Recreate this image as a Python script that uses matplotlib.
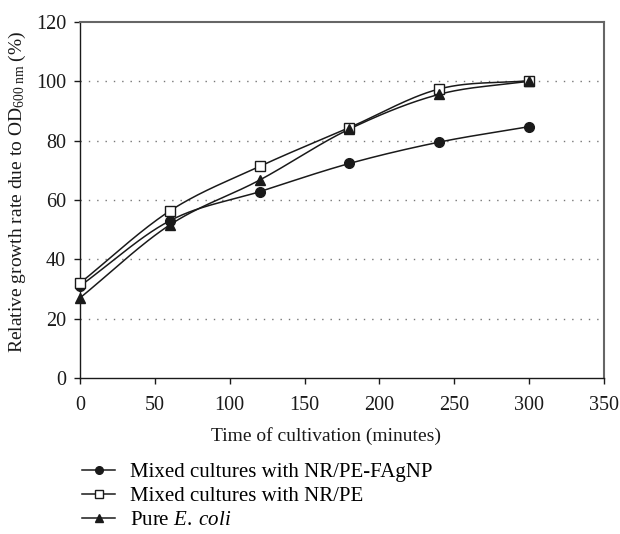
import numpy as np
import matplotlib
matplotlib.use("Agg")
import matplotlib.pyplot as plt
from matplotlib.lines import Line2D

plt.rcParams['font.family'] = ['Liberation Serif', 'DejaVu Serif']
plt.rcParams['mathtext.fontset'] = 'custom'
plt.rcParams['mathtext.rm'] = 'Liberation Serif'
plt.rcParams['mathtext.it'] = 'Liberation Serif:italic'

# data
time_min = [0, 60, 120, 180, 240, 300]
nrpe_fagnp = [31, 53, 62.8, 72.3, 79.5, 84.7]
nrpe = [32, 56.3, 71.3, 84.4, 97.4, 100.2]
pure_ecoli = [27, 51.6, 66.7, 83.9, 95.6, 100]

series_labels = ['Mixed cultures with NR/PE-FAgNP',
                 'Mixed cultures with NR/PE',
                 r'Pure $\mathit{E.\;coli}$']

ink = '#1a1a1a'


def smooth(x, y, n=30):
    # Catmull-Rom curve through the points (like Excel's smoothed line)
    x = np.asarray(x, float)
    y = np.asarray(y, float)
    px = np.concatenate([[2 * x[0] - x[1]], x, [2 * x[-1] - x[-2]]])
    py = np.concatenate([[2 * y[0] - y[1]], y, [2 * y[-1] - y[-2]]])
    xs, ys = [], []
    t = np.linspace(0, 1, n)
    for i in range(1, len(px) - 2):
        for p, out in ((px, xs), (py, ys)):
            p0, p1, p2, p3 = p[i - 1], p[i], p[i + 1], p[i + 2]
            out.extend(0.5 * ((2 * p1) + (-p0 + p2) * t
                              + (2 * p0 - 5 * p1 + 4 * p2 - p3) * t ** 2
                              + (-p0 + 3 * p1 - 3 * p2 + p3) * t ** 3))
    return np.array(xs), np.array(ys)


fig = plt.figure(figsize=(6.2, 5.34), dpi=100)
ax = fig.add_axes([0.129, 0.292, 0.845, 0.667])

styles = [dict(marker='o', mfc=ink),
          dict(marker='s', mfc='white'),
          dict(marker='^', mfc=ink)]
for ys, st in zip([nrpe_fagnp, nrpe, pure_ecoli], styles):
    sx, sy = smooth(time_min, ys)
    ax.plot(sx, sy, color=ink, lw=1.1, zorder=3, clip_on=False)
    ax.plot(time_min, ys, ls='none', marker=st['marker'], ms=7,
            mfc=st['mfc'], mec=ink, mew=1.0, zorder=4, clip_on=False)

ax.set_xlim(0, 350)
ax.set_ylim(0, 120)
ax.set_xticks(range(0, 351, 50))
ax.set_yticks(range(0, 121, 20))
for yv in range(20, 101, 20):
    ax.axhline(yv, color='#777777', lw=1.0, ls=(0, (1, 5)), zorder=1)

for s in ['top', 'right']:
    ax.spines[s].set_color('#666666')
    ax.spines[s].set_linewidth(1.5)
for s in ['left', 'bottom']:
    ax.spines[s].set_color(ink)
    ax.spines[s].set_linewidth(1.0)
ax.tick_params(direction='out', length=4, width=1.0, labelsize=14.5,
               colors=ink, top=False, right=False)
ax.tick_params(axis='x', pad=9)
ax.tick_params(axis='y', pad=6)

fig.text(326 / 620, 1 - 436 / 534, 'Time of cultivation (minutes)',
         fontsize=14, color=ink, ha='center', va='center')
fig.text(17 / 620, 1 - 192 / 534,
         r'Relative growth rate due to OD$_{600\ \mathrm{nm}}$ (%)',
         fontsize=14, color=ink, ha='center', va='center', rotation=90)

handles = [Line2D([], [], color=ink, lw=1.1, marker=st['marker'], ms=5.5,
                  mfc=st['mfc'], mec=ink) for st in styles]
fig.legend(handles, series_labels, loc='upper left', bbox_to_anchor=(0.119, 0.15),
           frameon=False, fontsize=15, handlelength=1.6, labelspacing=0.22,
           handletextpad=0.72, borderaxespad=0)

fig.savefig('out.png', dpi=100)
